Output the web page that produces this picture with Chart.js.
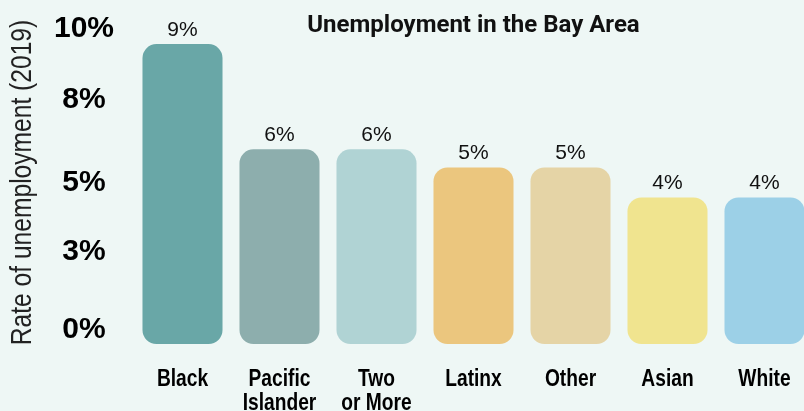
<!DOCTYPE html>
<html>
<head>
<meta charset="utf-8">
<script src="https://cdn.jsdelivr.net/npm/chart.js@4/dist/chart.umd.min.js"></script>
<style>
  html, body { margin: 0; padding: 0; overflow: hidden; background: #eef7f5; }
  #wrap { width: 816px; height: 411px; position: relative; }
</style>
</head>
<body>
<div id="wrap"><canvas id="chart"></canvas></div>
<script>
// data
const groups = [['Black'], ['Pacific', 'Islander'], ['Two', 'or More'], ['Latinx'], ['Other'], ['Asian'], ['White']]
const rates = [9.5, 6.0, 6.0, 5.4, 5.4, 4.4, 4.4]
const rateLabels = ['9%', '6%', '6%', '5%', '5%', '4%', '4%']
const barColors = ['#69a7a7', '#8daead', '#b0d3d4', '#ebc67e', '#e5d4a6', '#f0e48f', '#9cd0e7']
const yTickValues = [0, 2.6, 4.9, 7.65, 10]
const yTickLabels = ['0%', '3%', '5%', '8%', '10%']
const chartTitle = 'Unemployment in the Bay Area'
const yTitle = 'Rate of unemployment (2019)'

const yMin = -0.47

// 棒の上に値を描く
const valueLabels = {
  id: 'valueLabels',
  afterDatasetsDraw(chart) {
    const ctx = chart.ctx
    const meta = chart.getDatasetMeta(0)
    ctx.save()
    ctx.font = "21px 'Liberation Sans', Arial, sans-serif"
    ctx.fillStyle = '#111'
    ctx.textAlign = 'center'
    ctx.textBaseline = 'alphabetic'
    meta.data.forEach((bar, i) => {
      ctx.fillText(rateLabels[i], bar.x, bar.y - 8)
    })
    ctx.restore()
  }
}

// タイトル、縦軸タイトル、横軸ラベル（細めの字体を横に縮めて描く）
const textLayer = {
  id: 'textLayer',
  afterDraw(chart) {
    const ctx = chart.ctx
    const area = chart.chartArea
    const x = chart.scales.x
    ctx.save()
    ctx.fillStyle = '#111'
    ctx.textAlign = 'center'
    ctx.textBaseline = 'alphabetic'
    ctx.font = "bold 24px Roboto, 'Liberation Sans', sans-serif"
    ctx.fillText(chartTitle, (area.left + area.right) / 2, 32)

    // 横軸ラベル
    ctx.fillStyle = '#000'
    ctx.font = "bold 24px 'Liberation Sans', Arial, sans-serif"
    groups.forEach((lines, i) => {
      const cx = x.getPixelForValue(i)
      lines.forEach((line, j) => {
        ctx.save()
        ctx.translate(cx, 386 + j * 24)
        ctx.scale(0.8, 1)
        ctx.fillText(line, 0, 0)
        ctx.restore()
      })
    })

    // 縦軸タイトル
    ctx.fillStyle = '#222'
    ctx.font = "30px 'Liberation Sans', Arial, sans-serif"
    ctx.translate(31, (area.top + area.bottom) / 2 - 4)
    ctx.rotate(-Math.PI / 2)
    ctx.scale(0.82, 1)
    ctx.fillText(yTitle, 0, 0)
    ctx.restore()
  }
}

const ctx = document.getElementById('chart').getContext('2d')
new Chart(ctx, {
  type: 'bar',
  data: {
    labels: groups,
    datasets: [{
      data: rates,
      base: yMin,
      backgroundColor: barColors,
      borderRadius: 14,
      borderSkipped: false,
      barPercentage: 0.825,
      categoryPercentage: 1
    }]
  },
  options: {
    responsive: true,
    maintainAspectRatio: false,
    animation: false,
    layout: { padding: { top: 29, right: 3, bottom: 67, left: 0 } },
    plugins: {
      legend: { display: false },
      tooltip: { enabled: false }
    },
    scales: {
      x: {
        grid: { display: false, drawTicks: false },
        border: { display: false },
        ticks: { display: false }
      },
      y: {
        min: yMin,
        max: 10,
        grid: { display: false, drawTicks: false },
        border: { display: false },
        afterBuildTicks: (scale) => {
          scale.ticks = yTickValues.map(v => ({ value: v }))
        },
        afterFit: (scale) => { scale.width = 134 },
        ticks: {
          color: '#000',
          padding: 20,
          crossAlign: 'center',
          font: { family: "'Liberation Sans', Arial, sans-serif", size: 30, weight: 'bold', lineHeight: 0.5 },
          callback: function(value, index) {
            return yTickLabels[index]
          }
        }
      }
    }
  },
  plugins: [valueLabels, textLayer]
})
</script>
</body>
</html>
